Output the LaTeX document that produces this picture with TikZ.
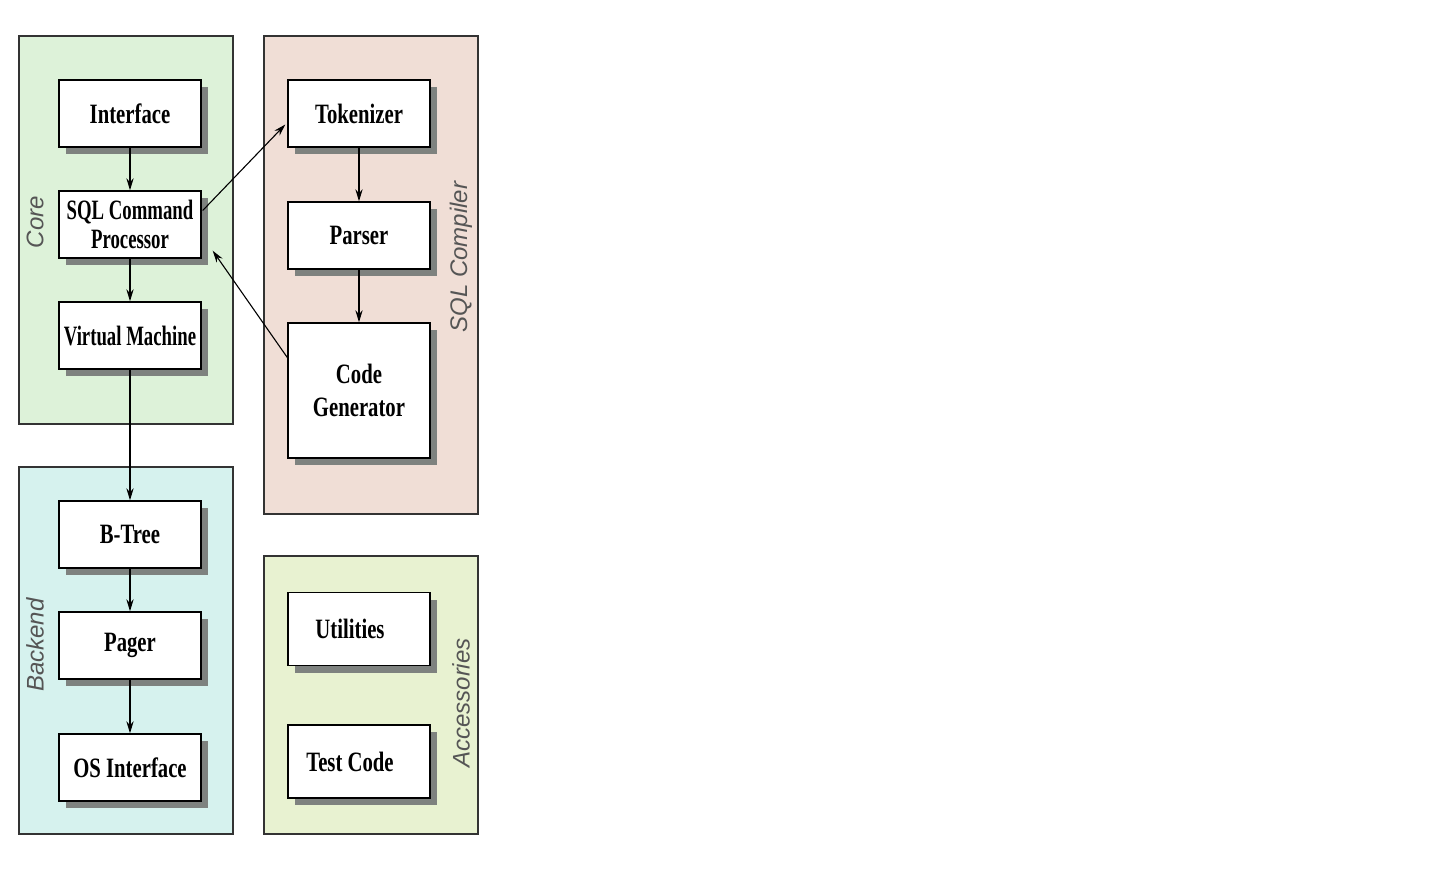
\documentclass[tikz,border=0pt]{standalone}
\usepackage{fontspec}
\usetikzlibrary{arrows.meta,shadows,calc}
\newfontfamily\boxfont[FakeStretch=0.74]{Liberation Serif}
\newfontfamily\narrowfont[FakeStretch=0.67]{Liberation Serif}
\newfontfamily\panelfont{Liberation Sans}
\definecolor{corefill}{HTML}{DDF2D9}
\definecolor{sqlfill}{HTML}{F0DED6}
\definecolor{backfill}{HTML}{D6F2EE}
\definecolor{accfill}{HTML}{E8F2D1}
\definecolor{shadowgray}{HTML}{7E827F}
\definecolor{labelgray}{HTML}{555555}
\tikzset{
  panel/.style={draw=black!80, line width=0.7pt},
  modbox/.style={draw=black, line width=0.7pt, fill=white, minimum width=71pt,
    minimum height=33.5pt, inner sep=0pt, align=center,
    font=\boxfont\bfseries\fontsize{14}{14.5}\selectfont,
    drop shadow={shadow xshift=3.5pt, shadow yshift=-3.5pt, fill=shadowgray, opacity=1}},
  narrowtext/.style={font=\narrowfont\bfseries\fontsize{14}{14.5}\selectfont},
  panellabel/.style={rotate=90, text=labelgray, font=\panelfont\itshape\fontsize{12}{14}\selectfont},
  link/.style={draw=black, line width=0.55pt, -{Stealth[length=6pt,width=3.6pt]}}
}
\begin{document}
\begin{tikzpicture}[x=0.5pt,y=-0.5pt]
\useasboundingbox (0,0) rectangle (1455,877);
% panels
\draw[panel, fill=corefill] (19,36) rectangle (233,424);
\draw[panel, fill=sqlfill] (264,36) rectangle (478,514);
\draw[panel, fill=backfill] (19,467) rectangle (233,834);
\draw[panel, fill=accfill] (264,556) rectangle (478,834);
% panel labels
\node[panellabel] (lcore) at (35,222) {Core};
\node[panellabel] (lback) at (35,645) {Backend};
\node[panellabel] (lsql) at (461,257) {SQL Compiler};
\node[panellabel] (lacc) at (461,703) {Accessories};
% boxes
\node[modbox] (iface) at (130,113.5) {Interface};
\node[modbox, narrowtext] (sqlcp) at (130,224.5) {SQL Command\\Processor};
\node[modbox, narrowtext] (vm) at (130,335.5) {Virtual Machine};
\node[modbox] (btree) at (130,534.5) {B-Tree};
\node[modbox] (pager) at (130,645.5) {Pager};
\node[modbox] (osif) at (130,767.5) {OS Interface};
\node[modbox] (tok) at (359,113.5) {Tokenizer};
\node[modbox] (parser) at (359,235.5) {Parser};
\node[modbox, minimum height=67.5pt, font=\boxfont\bfseries\fontsize{14}{16.5}\selectfont] (codegen) at (359,390.5) {Code\\Generator};
\node[modbox, minimum height=36.5pt] (util) at (359,629) {\hspace*{-9pt}Utilities};
\node[modbox, minimum height=36.5pt] (test) at (359,761.5) {\hspace*{-9pt}Test Code};
% connectors
\draw[link] (iface) -- (sqlcp);
\draw[link] (sqlcp) -- (vm);
\draw[link] (vm) -- (btree);
\draw[link] (btree) -- (pager);
\draw[link] (pager) -- (osif);
\draw[link] (tok) -- (parser);
\draw[link] (parser) -- (codegen);
\draw[link] ($(sqlcp.east)+(1,-14)$) -- ($(tok.west)+(-2,11)$);
\coordinate (cgtip) at ($(sqlcp.south east)+(11,-8)$);
\draw[link] ($(codegen.west)+(0,-33)$) -- (cgtip);
\end{tikzpicture}
\end{document}
